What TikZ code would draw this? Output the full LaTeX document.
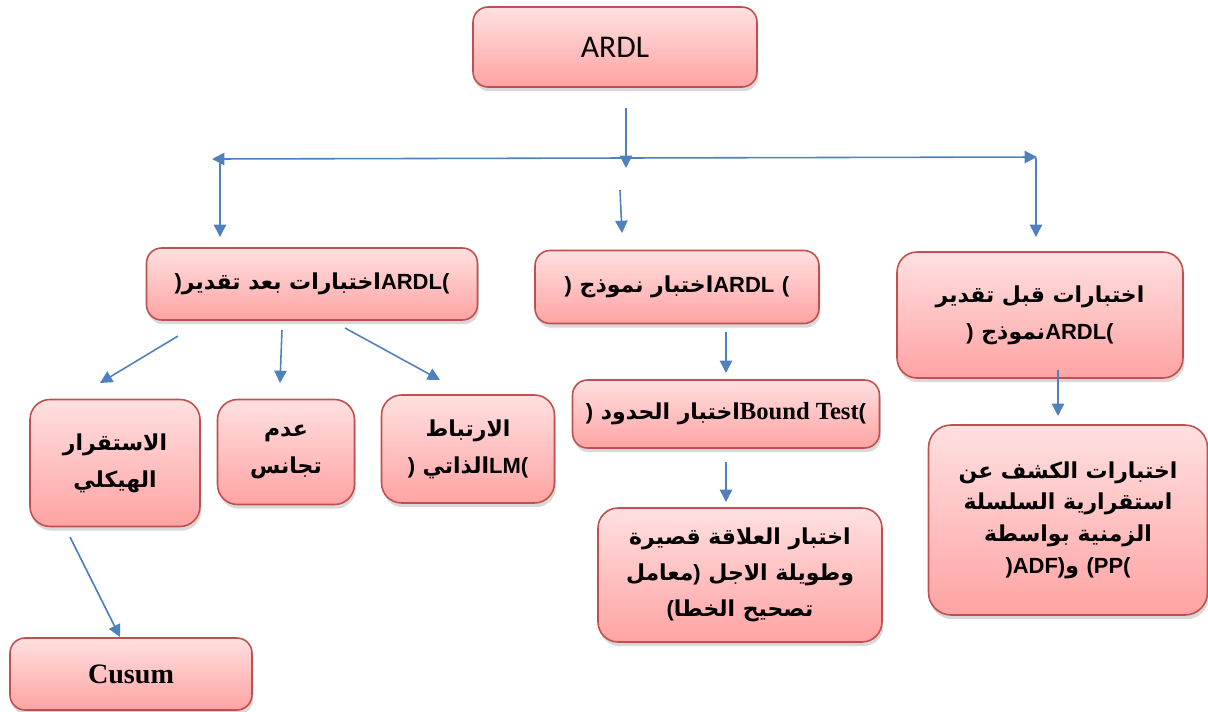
\documentclass[tikz,border=0pt]{standalone}
\usepackage{fontspec}
\usetikzlibrary{shadows,arrows.meta}
\TeXXeTstate=1
\newfontfamily\arfont[Script=Arabic]{DejaVu Sans}
\newfontfamily\latfont{Liberation Sans}
\newfontfamily\timesfont{Liberation Serif}
\newfontfamily\calfont{Carlito}
\newcommand\xlp{\hbox{\latfont\bfseries(}}
\newcommand\xrp{\hbox{\latfont\bfseries)}}
\newcommand\xlat[1]{\hbox{\latfont\bfseries\beginL #1\endL}}
\definecolor{bordc}{HTML}{C0504D}
\definecolor{topc}{HTML}{FFE0E0}
\definecolor{botc}{HTML}{FFA3A3}
\definecolor{arrc}{HTML}{4F81BD}
\begin{document}
\begin{tikzpicture}[x=0.02cm,y=-0.02cm,
  pbox/.style={draw=bordc, line width=0.9pt, rounded corners=0.3cm,
    top color=topc, bottom color=botc,
    drop shadow={opacity=0.3,shadow xshift=0.8pt,shadow yshift=-2.4pt},
    inner sep=0pt, align=center,
    font=\arfont\bfseries\fontsize{12.5}{21}\selectfont},
  conn/.style={draw=arrc, line width=0.9pt, -{Triangle[width=7pt,length=7pt]}},
  conn2/.style={draw=arrc, line width=0.9pt, {Triangle[width=7pt,length=7pt]}-{Triangle[width=7pt,length=7pt]}}]
\useasboundingbox (0,0) rectangle (1208,711);

\node[pbox, minimum width=5.68cm, minimum height=1.6cm,
  font=\calfont\fontsize{18}{22}\selectfont] (ardl) at (615,47) {ARDL};

\node[pbox, minimum width=6.62cm, minimum height=1.44cm] (after) at (312,284)
  {\beginR\xlp\xlat{ARDL}اختبارات بعد تقدير\xrp\endR};

\node[pbox, minimum width=5.68cm, minimum height=1.46cm] (model) at (677,287)
  {\beginR\xlp\ \xlat{ARDL}اختبار نموذج\ \xrp\endR};

\node[pbox, minimum width=5.72cm, minimum height=2.52cm, rounded corners=0.4cm] (before) at (1040,315)
  {\beginR اختبارات قبل تقدير\endR\\\beginR\xlp\xlat{ARDL}نموذج\ \xrp\endR};

\node[pbox, minimum width=6.14cm, minimum height=1.36cm] (bound) at (726,414)
  {\beginR\xlp\hbox{\timesfont\bfseries\fontsize{14}{16}\selectfont\beginL Bound Test\endL}اختبار الحدود\ \xrp\endR};

\node[pbox, minimum width=5.68cm, minimum height=2.68cm, rounded corners=0.4cm,
  font=\arfont\bfseries\fontsize{12.5}{20.5}\selectfont] (rel) at (740,575)
  {\beginR اختبار العلاقة قصيرة\endR\\\beginR وطويلة الاجل \xrp معامل\endR\\\beginR تصحيح الخطا\xlp\endR};

\node[pbox, minimum width=5.58cm, minimum height=3.8cm, rounded corners=0.45cm,
  font=\arfont\bfseries\fontsize{12.5}{18}\selectfont] (kashf) at (1068,520)
  {\beginR اختبارات الكشف عن\endR\\\beginR استقرارية السلسلة\endR\\\beginR الزمنية بواسطة\endR\\\beginR\xlat{(PP(}\ و\xlat{)ADF)}\endR};

\node[pbox, minimum width=3.4cm, minimum height=2.54cm, rounded corners=0.4cm] (struct) at (115,463)
  {\beginR الاستقرار\endR\\\beginR الهيكلي\endR};

\node[pbox, minimum width=2.74cm, minimum height=2.1cm, rounded corners=0.4cm] (het) at (286,452)
  {\beginR عدم\endR\\\beginR تجانس\endR};

\node[pbox, minimum width=3.46cm, minimum height=2.16cm, rounded corners=0.4cm] (auto) at (468,449)
  {\beginR الارتباط\endR\\\beginR\xlp\xlat{LM}الذاتي\ \xrp\endR};

\node[pbox, minimum width=4.84cm, minimum height=1.44cm,
  font=\timesfont\bfseries\fontsize{16}{20}\selectfont] (cusum) at (131,674) {Cusum};

% connectors
\coordinate (t1) at (626,108); \coordinate (t2) at (626,168);
\draw[conn] (t1) -- (t2);
\coordinate (hl) at (212,159); \coordinate (hr) at (1037,157);
\draw[conn2] (hl) -- (hr);
\coordinate (l1) at (220,163); \coordinate (l2) at (220,237);
\draw[conn] (l1) -- (l2);
\coordinate (m1) at (620,190); \coordinate (m2) at (622,233);
\draw[conn] (m1) -- (m2);
\coordinate (r1) at (1036,158); \coordinate (r2) at (1036,237);
\draw[conn] (r1) -- (r2);
\coordinate (a1) at (178,336); \coordinate (a2) at (100,383);
\draw[conn] (a1) -- (a2);
\coordinate (b1) at (282,330); \coordinate (b2) at (280,383);
\draw[conn] (b1) -- (b2);
\coordinate (c1) at (345,328); \coordinate (c2) at (440,380);
\draw[conn] (c1) -- (c2);
\coordinate (d1) at (726,332); \coordinate (d2) at (726,373);
\draw[conn] (d1) -- (d2);
\coordinate (e1) at (726,462); \coordinate (e2) at (726,502);
\draw[conn] (e1) -- (e2);
\coordinate (f1) at (1058,370); \coordinate (f2) at (1058,416);
\draw[conn] (f1) -- (f2);
\coordinate (g1) at (70,537); \coordinate (g2) at (120,637);
\draw[conn] (g1) -- (g2);
\end{tikzpicture}
\end{document}
